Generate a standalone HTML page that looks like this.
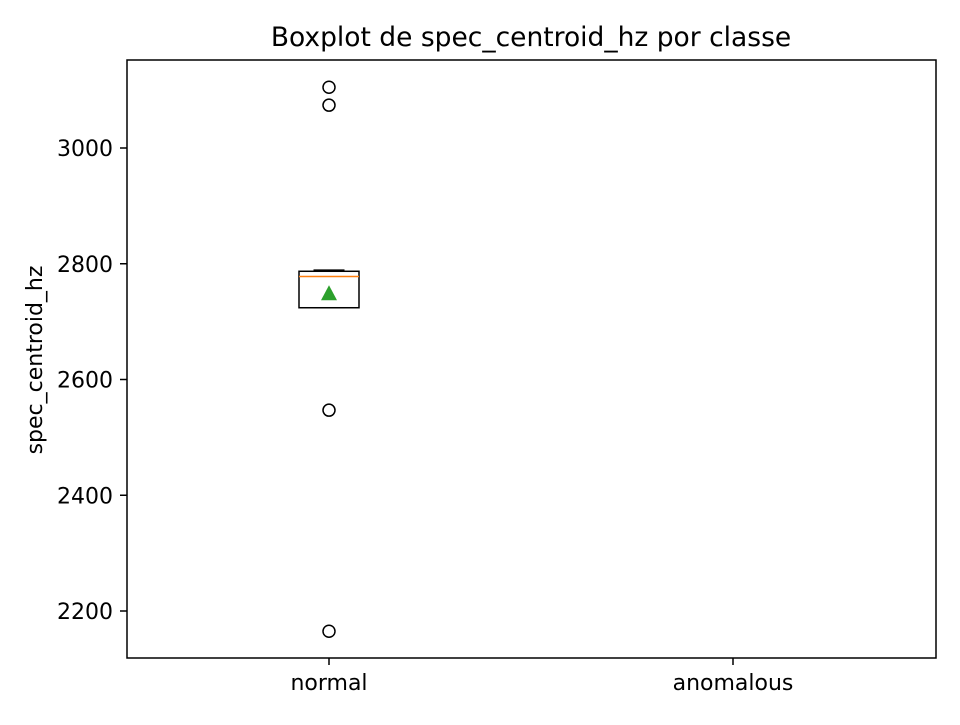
<!DOCTYPE html>
<html><head><meta charset="utf-8"><style>
html,body{margin:0;padding:0;background:#fff;}
svg text{font-family:"DejaVu Sans","Liberation Sans",sans-serif;fill:#000;}
</style></head><body>
<svg id="chart" width="960" height="720" xmlns="http://www.w3.org/2000/svg">
<rect width="960" height="720" fill="#fff"/>
<text x="531" y="46" font-size="26.5" text-anchor="middle">Boxplot de spec_centroid_hz por classe</text>
<text transform="translate(42,360) rotate(-90)" font-size="22" text-anchor="middle">spec_centroid_hz</text>
<g id="marks"></g>
<rect x="127" y="60" width="809" height="598" fill="none" stroke="#000" stroke-width="1.5"/>
</svg>
<script>
const categories = ["normal", "anomalous"];
const q1 = [2724, null];
const median = [2778, null];
const q3 = [2787, null];
const whiskerLow = [2724, null];
const whiskerHigh = [2789, null];
const means = [2749, null];
const outliers = [[3105, 3074, 2547, 2165], []];
const yTicks = [2200, 2400, 2600, 2800, 3000];

const NS = "http://www.w3.org/2000/svg";
const g = document.getElementById('marks');
function y(v){ return 148 + (3000 - v) * 0.57875; }
function x(i){ return 329 + i * 404; }
function mk(tag, attrs, parent){
  const e = document.createElementNS(NS, tag);
  for (const k in attrs) e.setAttribute(k, attrs[k]);
  (parent || g).appendChild(e);
  return e;
}
yTicks.forEach(t => {
  const ln = mk('line', {x1:120, x2:127, y1:y(t), y2:y(t), stroke:'#000', 'stroke-width':1.5});
  
  
  const tx = mk('text', {x:113, y:y(t)+8, 'font-size':22, 'text-anchor':'end'});
  tx.textContent = t;
  
  
});
categories.forEach((c, i) => {
  const cx = x(i);
  const ln = mk('line', {x1:cx, x2:cx, y1:658, y2:665, stroke:'#000', 'stroke-width':1.5});
  
  
  const tx = mk('text', {x:cx, y:690, 'font-size':22, 'text-anchor':'middle'});
  tx.textContent = c;
  
  
  if (q1[i] === null) return;
  const grp = mk('g', {});
  
  
  const hw = 30, cw = 15.5;
  mk('line', {x1:cx, x2:cx, y1:y(q3[i]), y2:y(whiskerHigh[i]), stroke:'#000', 'stroke-width':1.5}, grp);
  mk('line', {x1:cx, x2:cx, y1:y(q1[i]), y2:y(whiskerLow[i]), stroke:'#000', 'stroke-width':1.5}, grp);
  mk('line', {x1:cx-cw, x2:cx+cw, y1:y(whiskerHigh[i]), y2:y(whiskerHigh[i]), stroke:'#000', 'stroke-width':1.5}, grp);
  mk('line', {x1:cx-cw, x2:cx+cw, y1:y(whiskerLow[i]), y2:y(whiskerLow[i]), stroke:'#000', 'stroke-width':1.5}, grp);
  mk('rect', {x:cx-hw, y:y(q3[i]), width:2*hw, height:y(q1[i])-y(q3[i]), fill:'none', stroke:'#000', 'stroke-width':1.5}, grp);
  mk('line', {x1:cx-hw, x2:cx+hw, y1:y(median[i]), y2:y(median[i]), stroke:'#ff7f0e', 'stroke-width':1.5}, grp);
  const my = y(means[i]);
  const tri = mk('polygon', {points:`${cx},${my-8} ${cx-8},${my+7} ${cx+8},${my+7}`, fill:'#2ca02c'});
  
  
  outliers[i].forEach((v, j) => {
    const o = mk('circle', {cx:cx, cy:y(v), r:6, fill:'none', stroke:'#000', 'stroke-width':1.5});
    
    
  });
});
</script>
</body></html>
